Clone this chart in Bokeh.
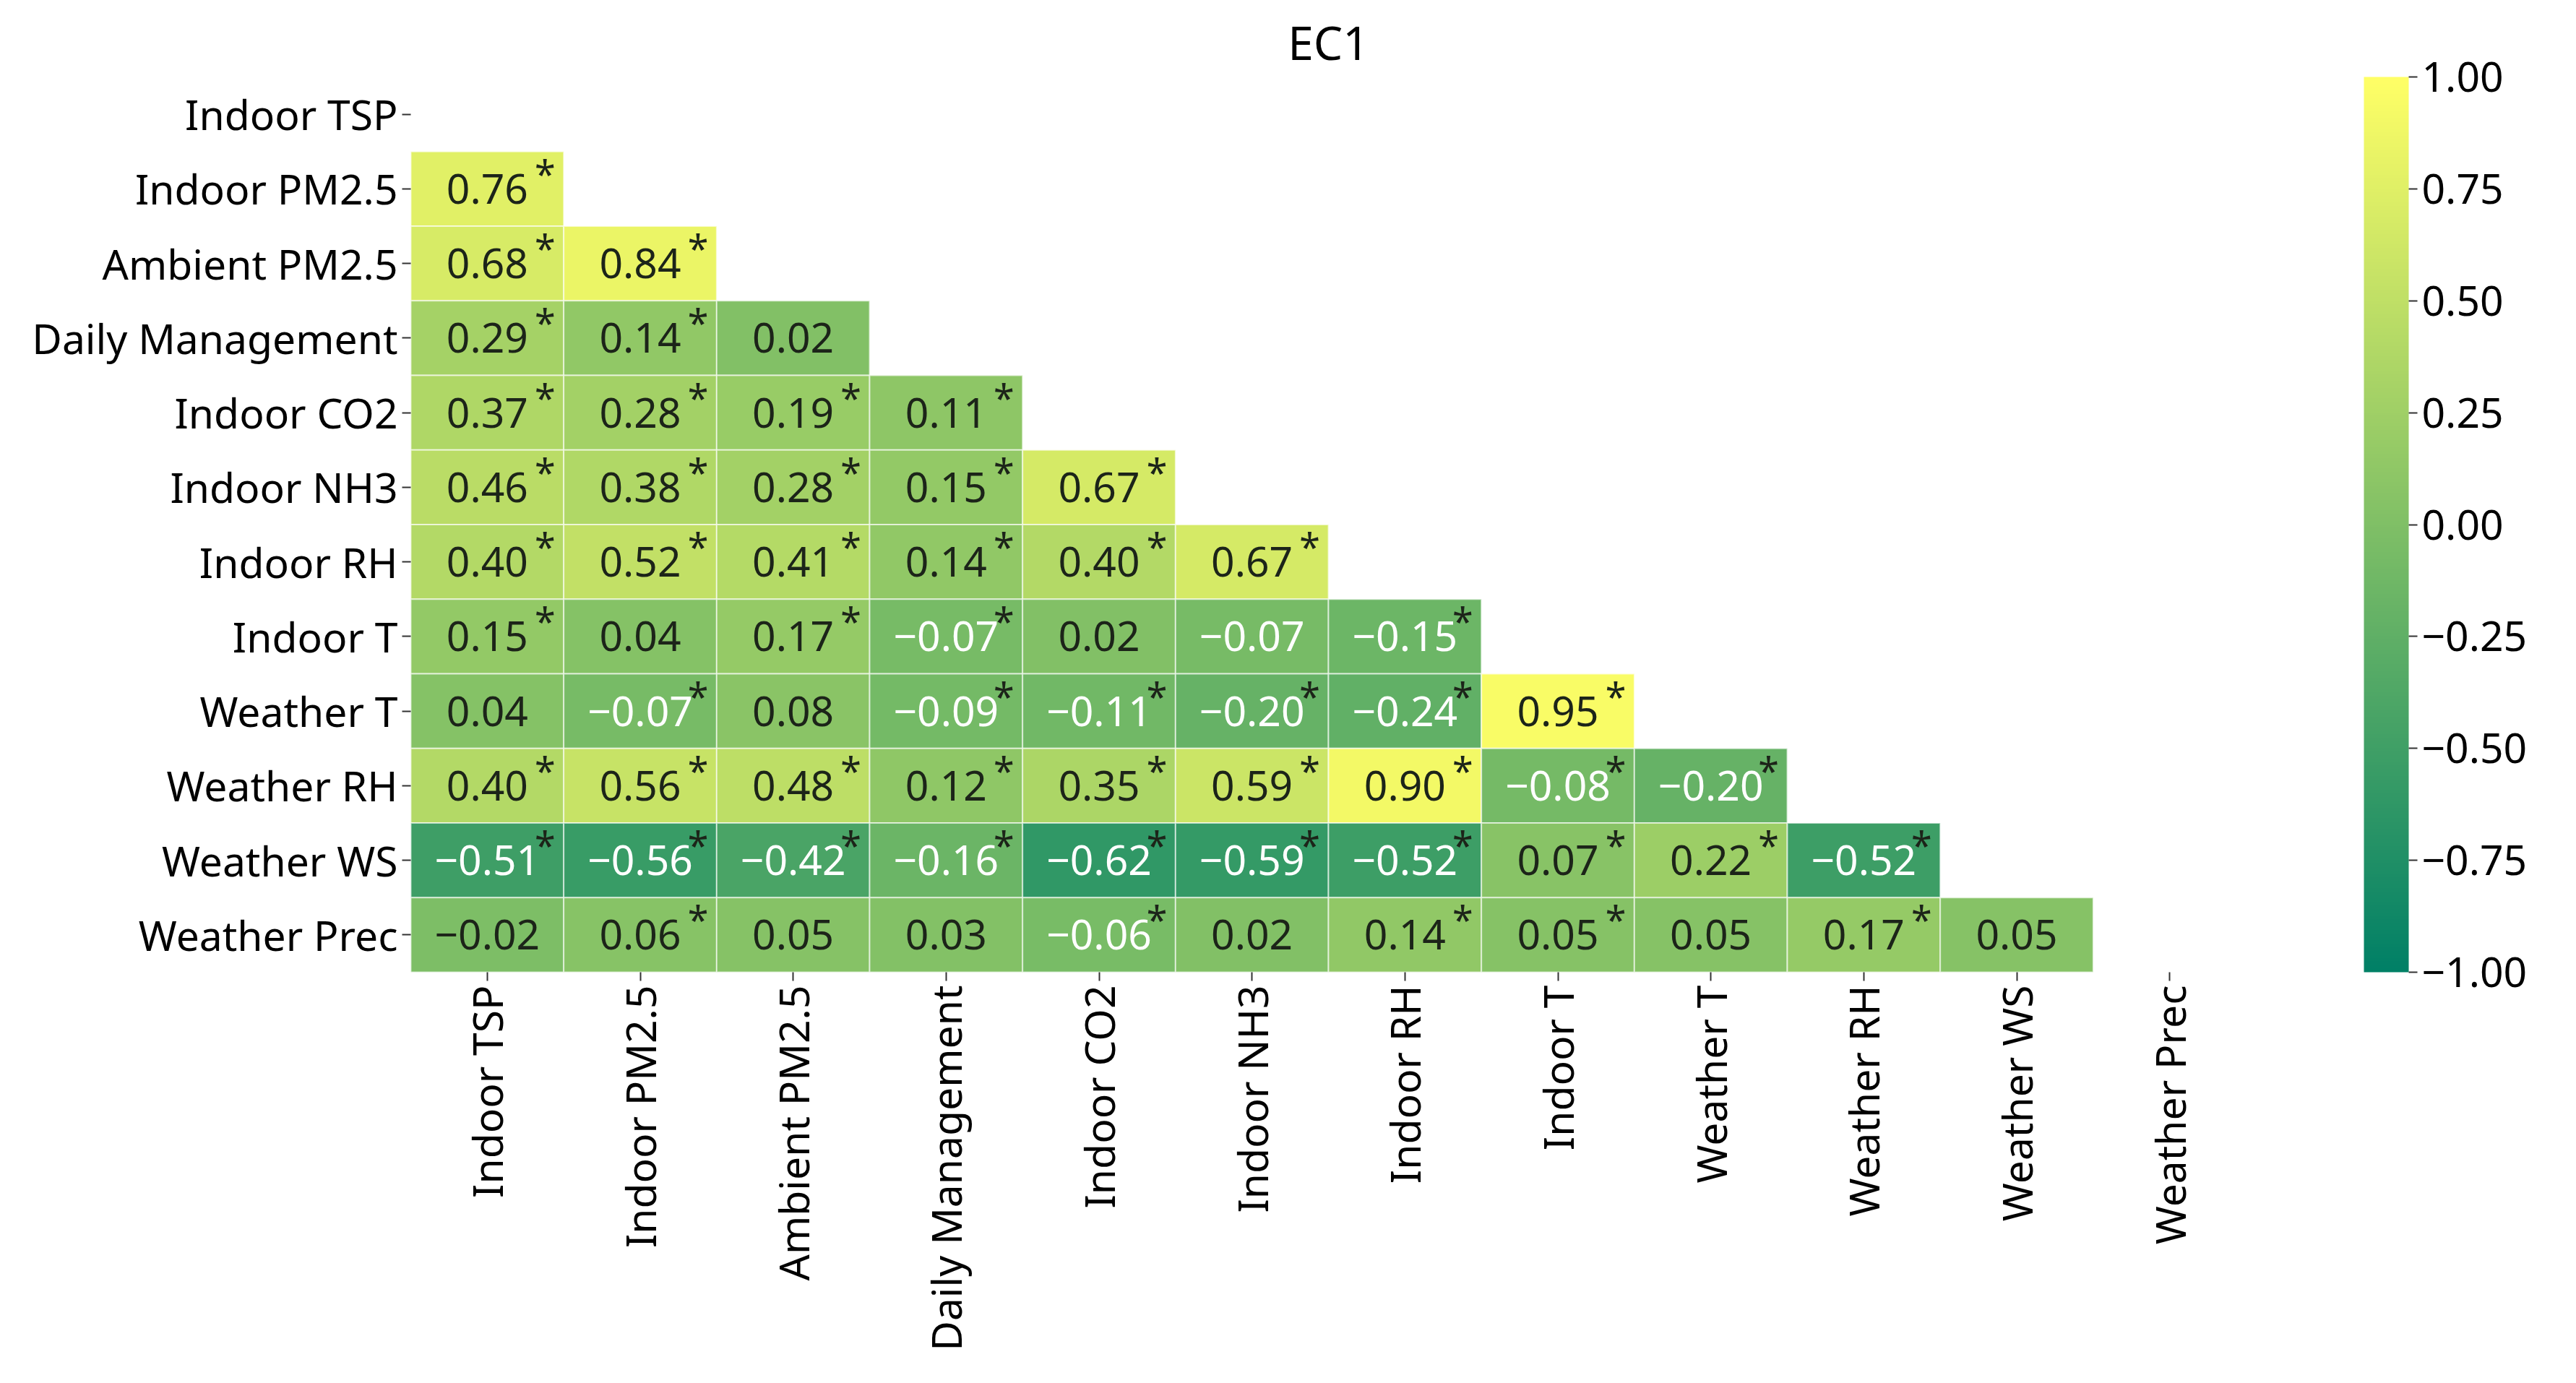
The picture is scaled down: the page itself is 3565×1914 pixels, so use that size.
import numpy as np
from bokeh.plotting import figure
from bokeh.models import (ColumnDataSource, LinearColorMapper, ColorBar, FixedTicker,
                          CustomJSTickFormatter, FactorRange)
from bokeh.core.properties import value
from bokeh.embed import file_html
from bokeh.resources import INLINE

# ---------------- data ----------------
names = ["Indoor TSP", "Indoor PM2.5", "Ambient PM2.5", "Daily Management", "Indoor CO2",
         "Indoor NH3", "Indoor RH", "Indoor T", "Weather T", "Weather RH", "Weather WS",
         "Weather Prec"]

v_indoor_pm25 = [0.76]
v_ambient_pm25 = [0.68, 0.84]
v_daily_mgmt = [0.29, 0.14, 0.02]
v_indoor_co2 = [0.37, 0.28, 0.19, 0.11]
v_indoor_nh3 = [0.46, 0.38, 0.28, 0.15, 0.67]
v_indoor_rh = [0.40, 0.52, 0.41, 0.14, 0.40, 0.67]
v_indoor_t = [0.15, 0.04, 0.17, -0.07, 0.02, -0.07, -0.15]
v_weather_t = [0.04, -0.07, 0.08, -0.09, -0.11, -0.20, -0.24, 0.95]
v_weather_rh = [0.40, 0.56, 0.48, 0.12, 0.35, 0.59, 0.90, -0.08, -0.20]
v_weather_ws = [-0.51, -0.56, -0.42, -0.16, -0.62, -0.59, -0.52, 0.07, 0.22, -0.52]
v_weather_prec = [-0.02, 0.06, 0.05, 0.03, -0.06, 0.02, 0.14, 0.05, 0.05, 0.17, 0.05]

# significance (1 = starred)
s_indoor_pm25 = [1]
s_ambient_pm25 = [1, 1]
s_daily_mgmt = [1, 1, 0]
s_indoor_co2 = [1, 1, 1, 1]
s_indoor_nh3 = [1, 1, 1, 1, 1]
s_indoor_rh = [1, 1, 1, 1, 1, 1]
s_indoor_t = [1, 0, 1, 1, 0, 0, 1]
s_weather_t = [0, 1, 0, 1, 1, 1, 1, 1]
s_weather_rh = [1, 1, 1, 1, 1, 1, 1, 1, 1]
s_weather_ws = [1, 1, 1, 1, 1, 1, 1, 1, 1, 1]
s_weather_prec = [0, 1, 0, 0, 1, 0, 1, 1, 0, 1, 0]

cb_ticks = [-1.0, -0.75, -0.5, -0.25, 0.0, 0.25, 0.5, 0.75, 1.0]

rows_v = [v_indoor_pm25, v_ambient_pm25, v_daily_mgmt, v_indoor_co2, v_indoor_nh3,
          v_indoor_rh, v_indoor_t, v_weather_t, v_weather_rh, v_weather_ws, v_weather_prec]
rows_s = [s_indoor_pm25, s_ambient_pm25, s_daily_mgmt, s_indoor_co2, s_indoor_nh3,
          s_indoor_rh, s_indoor_t, s_weather_t, s_weather_rh, s_weather_ws, s_weather_prec]

# ---------------- colours (matplotlib "summer") ----------------
def summer_rgb(t):
    return (t, 0.5 + 0.5 * t, 0.4)

palette = []
for t in np.linspace(0, 1, 256):
    r, g, b = summer_rgb(t)
    palette.append("#%02x%02x%02x" % (int(round(r * 255)), int(round(g * 255)), int(round(b * 255))))

DARK = "#1c2419"

def text_color(v):
    r, g, b = summer_rgb((v + 1) / 2)
    def lin(c):
        return c / 12.92 if c <= 0.03928 else ((c + 0.055) / 1.055) ** 2.4
    lum = 0.2126 * lin(r) + 0.7152 * lin(g) + 0.0722 * lin(b)
    return DARK if lum > 0.408 else "white"

def fmt(v):
    return ("%.2f" % v).replace("-", "\u2212")

xs, ys, vals, labels, tcols = [], [], [], [], []
sx, sy = [], []
for i, (rv, rs) in enumerate(zip(rows_v, rows_s)):
    rowname = names[i + 1]
    for j, (v, s) in enumerate(zip(rv, rs)):
        xs.append(names[j]); ys.append(rowname); vals.append(v)
        labels.append(fmt(v)); tcols.append(text_color(v))
        if s:
            sx.append(names[j]); sy.append(rowname)

src = ColumnDataSource(dict(x=xs, y=ys, v=vals, label=labels, tc=tcols))
star_src = ColumnDataSource(dict(x=sx, y=sy, label=["*"] * len(sx)))

mapper = LinearColorMapper(palette=palette, low=-1, high=1)

FONT = "Noto Sans"
FS = "57px"

p = figure(x_range=FactorRange(*names), y_range=FactorRange(*reversed(names)),
           frame_width=2540, frame_height=1239,
           min_border_left=568, min_border_right=437, min_border_top=106, min_border_bottom=545,
           output_backend="svg", toolbar_location=None, title="EC1")

p.rect(x="x", y="y", width=1, height=1, source=src,
       fill_color={"field": "v", "transform": mapper},
       line_color="white", line_alpha=0.6, line_width=2)

p.text(x="x", y="y", text="label", source=src, text_color="tc",
       text_align="center", text_baseline="middle",
       text_font=value(FONT), text_font_size=value(FS))

p.text(x="x", y="y", text="label", source=star_src, text_color=DARK,
       x_offset=80, y_offset=-22,
       text_align="center", text_baseline="middle",
       text_font=value(FONT), text_font_size=value("52px"))

# title
p.title.text_font = FONT
p.title.text_font_size = "64px"
p.title.text_font_style = "normal"
p.title.align = "center"
p.title.text_color = "black"

# axes
for ax in (p.xaxis[0], p.yaxis[0]):
    ax.axis_line_color = None
    ax.major_tick_in = 0
    ax.major_tick_out = 12
    ax.major_tick_line_color = "#333333"
    ax.major_tick_line_width = 2
    ax.major_label_text_font = FONT
    ax.major_label_text_font_size = FS
    ax.major_label_text_color = "black"
    ax.major_label_standoff = 6
p.xaxis.major_label_orientation = np.pi / 2

p.xgrid.grid_line_color = None
p.ygrid.grid_line_color = None
p.outline_line_color = None

cb = ColorBar(color_mapper=mapper, ticker=FixedTicker(ticks=cb_ticks),
              formatter=CustomJSTickFormatter(code="return tick.toFixed(2).replace('-', '\\u2212');"),
              width=62, height=1239, location=(2703, 0), padding=0, margin=0,
              major_label_text_font=FONT, major_label_text_font_size=FS,
              major_label_text_color="black",
              major_tick_in=0, major_tick_out=12, major_tick_line_color="#333333",
              major_tick_line_width=2, label_standoff=6,
              bar_line_color=None, border_line_color=None,
              background_fill_color=None)
p.add_layout(cb, "center")

open("out.html", "w").write(file_html(p, INLINE))
